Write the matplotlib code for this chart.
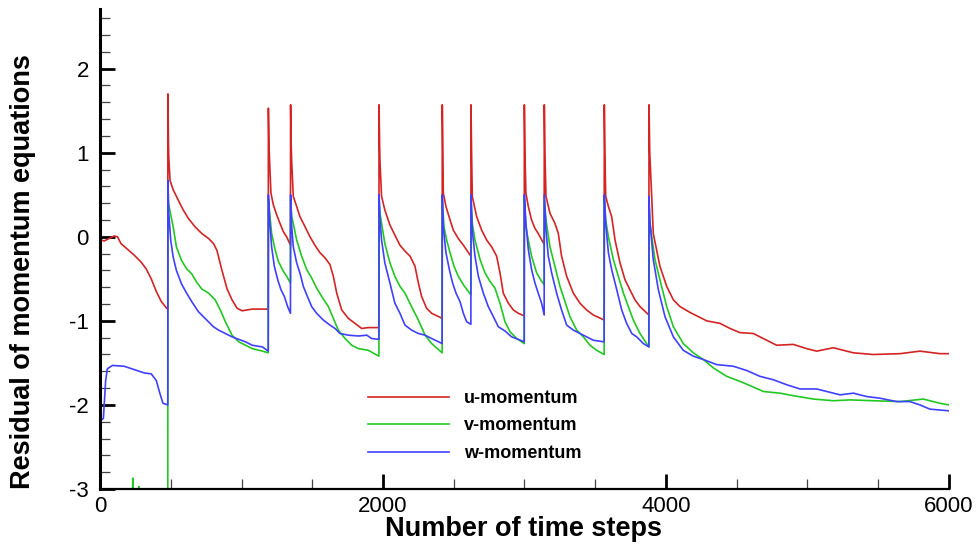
#!/usr/bin/env python3
"""Residual history of the three momentum equations (u, v, w)."""
import matplotlib
matplotlib.use("Agg")
import matplotlib.pyplot as plt
from matplotlib.ticker import MultipleLocator, FormatStrFormatter

plt.rcParams["font.family"] = ["Liberation Sans", "DejaVu Sans"]
plt.rcParams["axes.unicode_minus"] = False

# ---- data (one line per restart segment) ----
u_steps = [0, 29, 64, 100, 124, 148, 195, 243, 290, 326, 362, 398, 433, 471, 479,
           480, 484, 486, 495, 517, 552, 588, 624, 671, 719, 767, 802, 826, 862, 898, 933, 969, 1005, 1076, 1189,
           1190, 1194, 1199, 1208, 1225, 1249, 1272, 1296, 1319, 1340, 1346,
           1347, 1351, 1355, 1366, 1390, 1413, 1449, 1484, 1519, 1555, 1590, 1625, 1649, 1673, 1708, 1755, 1802, 1849, 1896, 1971,
           1972, 1976, 1979, 1990, 2013, 2049, 2084, 2120, 2155, 2191, 2226, 2250, 2273, 2308, 2344, 2418,
           2419, 2423, 2426, 2445, 2474, 2497, 2532, 2568, 2621,
           2622, 2626, 2631, 2662, 2697, 2733, 2768, 2803, 2827, 2850, 2886, 2921, 2956, 2998,
           2999, 3003, 3010, 3027, 3050, 3074, 3097, 3139,
           3140, 3144, 3152, 3180, 3215, 3239, 3262, 3298, 3345, 3392, 3439, 3486, 3563,
           3564, 3568, 3574, 3593, 3616, 3640, 3675, 3710, 3745, 3781, 3816, 3879,
           3880, 3885, 3899, 3910, 3957, 4005, 4052, 4099, 4170, 4288, 4382, 4452, 4523, 4617, 4688, 4782, 4900,
           4994, 5065, 5183, 5324, 5465, 5654, 5795, 5936, 6000]
u_resid = [-0.03, -0.05, -0.02, 0.01, 0.0, -0.08, -0.15, -0.22, -0.30, -0.38, -0.50, -0.65, -0.77, -0.85, -0.86,
           1.70, 1.10, 0.95, 0.67, 0.56, 0.44, 0.32, 0.22, 0.12, 0.04, -0.02, -0.08, -0.16, -0.40, -0.62, -0.75, -0.85, -0.88, -0.86, -0.86,
           1.53, 1.10, 0.88, 0.52, 0.38, 0.26, 0.16, 0.06, 0.0, -0.08, -0.10,
           1.57, 1.10, 0.88, 0.48, 0.36, 0.24, 0.12, 0.0, -0.10, -0.19, -0.25, -0.33, -0.47, -0.67, -0.87, -0.97, -1.03, -1.09, -1.08, -1.08,
           1.57, 1.10, 0.88, 0.48, 0.32, 0.14, 0.02, -0.10, -0.17, -0.23, -0.35, -0.55, -0.71, -0.85, -0.91, -0.97,
           1.57, 1.00, 0.52, 0.36, 0.20, 0.08, -0.02, -0.10, -0.23,
           1.57, 1.00, 0.48, 0.24, 0.08, -0.04, -0.12, -0.23, -0.43, -0.67, -0.79, -0.87, -0.91, -0.94,
           1.57, 1.00, 0.52, 0.36, 0.20, 0.10, 0.04, -0.09,
           1.57, 1.00, 0.48, 0.28, 0.16, 0.04, -0.23, -0.47, -0.67, -0.79, -0.87, -0.93, -0.99,
           1.57, 1.00, 0.48, 0.36, 0.24, -0.04, -0.31, -0.51, -0.63, -0.75, -0.83, -0.93,
           1.57, 1.00, 0.48, 0.04, -0.35, -0.59, -0.75, -0.83, -0.90, -1.00, -1.03, -1.09, -1.14, -1.15, -1.21, -1.29, -1.28,
           -1.33, -1.36, -1.32, -1.38, -1.40, -1.39, -1.36, -1.39, -1.39]

v_steps = [0, 225, 232, 236, 270, 274, 278, 479,
           480, 484, 493, 517, 540, 576, 612, 648, 683, 719, 767, 814, 850, 886, 933, 981, 1029, 1076, 1148, 1189,
           1190, 1199, 1213, 1237, 1260, 1296, 1319, 1346,
           1347, 1355, 1366, 1390, 1425, 1461, 1496, 1531, 1567, 1614, 1649, 1684, 1732, 1779, 1826, 1896, 1971,
           1972, 1979, 1990, 2013, 2049, 2084, 2120, 2155, 2202, 2250, 2297, 2344, 2418,
           2419, 2431, 2450, 2474, 2502, 2532, 2568, 2621,
           2622, 2631, 2650, 2686, 2721, 2756, 2791, 2827, 2862, 2898, 2945, 2998,
           2999, 3010, 3027, 3050, 3086, 3121, 3139,
           3140, 3152, 3180, 3215, 3251, 3286, 3321, 3369, 3416, 3463, 3510, 3563,
           3564, 3574, 3593, 3628, 3663, 3699, 3734, 3769, 3816, 3879,
           3880, 3886, 3922, 3957, 4005, 4052, 4122, 4193, 4264, 4335, 4429, 4523, 4594, 4688, 4806, 4900,
           5041, 5183, 5300, 5465, 5654, 5818, 5936, 6000]
v_resid = [-3.3, -3.3, -2.87, -3.3, -3.3, -2.97, -3.3, -3.3,
           0.50, 0.40, 0.32, 0.12, -0.12, -0.28, -0.38, -0.44, -0.54, -0.62, -0.67, -0.75, -0.87, -1.01, -1.17, -1.25, -1.29, -1.33, -1.36, -1.38,
           0.45, 0.28, 0.04, -0.15, -0.29, -0.41, -0.47, -0.55,
           0.45, 0.24, 0.16, -0.04, -0.23, -0.39, -0.49, -0.61, -0.71, -0.83, -0.97, -1.11, -1.21, -1.29, -1.33, -1.35, -1.42,
           0.45, 0.28, 0.16, -0.08, -0.31, -0.47, -0.59, -0.67, -0.83, -0.99, -1.17, -1.27, -1.38,
           0.45, 0.12, -0.04, -0.19, -0.35, -0.47, -0.57, -0.69,
           0.45, 0.16, -0.04, -0.27, -0.43, -0.53, -0.61, -0.79, -1.01, -1.13, -1.21, -1.27,
           0.45, 0.12, -0.04, -0.23, -0.43, -0.53, -0.57,
           0.45, 0.20, -0.12, -0.35, -0.59, -0.77, -0.95, -1.11, -1.19, -1.29, -1.35, -1.40,
           0.45, 0.20, 0.0, -0.27, -0.47, -0.67, -0.83, -0.99, -1.15, -1.31,
           0.40, 0.16, -0.27, -0.51, -0.83, -1.07, -1.27, -1.38, -1.46, -1.56, -1.66, -1.72, -1.77, -1.84, -1.86, -1.89,
           -1.93, -1.95, -1.94, -1.95, -1.96, -1.93, -1.98, -2.00]

w_steps = [0, 5, 10, 24, 40, 52, 88, 171, 243, 314, 362, 398, 421, 445, 479,
           480, 486, 500, 517, 540, 576, 612, 648, 695, 755, 802, 838, 886, 933, 981, 1029, 1076, 1148, 1189,
           1190, 1199, 1213, 1232, 1256, 1279, 1303, 1326, 1346,
           1347, 1355, 1366, 1390, 1413, 1437, 1461, 1496, 1531, 1578, 1625, 1661, 1696, 1755, 1826, 1885, 1920, 1971,
           1972, 1979, 1990, 2013, 2049, 2084, 2120, 2155, 2202, 2250, 2297, 2344, 2418,
           2419, 2426, 2445, 2469, 2492, 2516, 2544, 2568, 2591, 2621,
           2622, 2631, 2650, 2674, 2709, 2744, 2780, 2815, 2862, 2909, 2956, 2998,
           2999, 3010, 3027, 3050, 3074, 3097, 3121, 3139,
           3140, 3152, 3168, 3192, 3227, 3262, 3298, 3345, 3392, 3439, 3486, 3563,
           3564, 3574, 3593, 3616, 3652, 3687, 3722, 3758, 3793, 3840, 3879,
           3880, 3886, 3910, 3946, 3993, 4052, 4122, 4193, 4264, 4358, 4476, 4570, 4664, 4758, 4853, 4947,
           5065, 5136, 5230, 5324, 5418, 5512, 5630, 5724, 5795, 5865, 5936, 6000]
w_resid = [-2.35, -2.20, -2.18, -2.16, -1.71, -1.57, -1.53, -1.54, -1.58, -1.62, -1.63, -1.71, -1.85, -1.98, -2.00,
           0.67, 0.28, -0.04, -0.24, -0.40, -0.56, -0.67, -0.77, -0.89, -0.99, -1.07, -1.11, -1.15, -1.19, -1.22, -1.25, -1.29, -1.31, -1.36,
           0.50, 0.20, -0.12, -0.35, -0.51, -0.63, -0.71, -0.83, -0.91,
           0.50, 0.12, -0.12, -0.31, -0.43, -0.59, -0.69, -0.83, -0.91, -0.99, -1.05, -1.09, -1.15, -1.17, -1.18, -1.17, -1.21, -1.22,
           0.50, 0.20, -0.04, -0.31, -0.55, -0.79, -0.91, -1.05, -1.11, -1.15, -1.17, -1.21, -1.27,
           0.50, 0.12, -0.19, -0.39, -0.55, -0.67, -0.77, -0.91, -1.01, -1.04,
           0.50, 0.08, -0.23, -0.47, -0.67, -0.83, -0.95, -1.07, -1.12, -1.19, -1.22, -1.25,
           0.50, 0.16, -0.15, -0.39, -0.55, -0.67, -0.79, -0.93,
           0.50, 0.08, -0.23, -0.43, -0.67, -0.87, -1.05, -1.11, -1.15, -1.19, -1.23, -1.25,
           0.50, 0.16, -0.19, -0.39, -0.63, -0.87, -1.03, -1.15, -1.19, -1.27, -1.31,
           0.48, 0.20, -0.27, -0.63, -0.95, -1.19, -1.35, -1.42, -1.46, -1.52, -1.54, -1.59, -1.66, -1.70, -1.76, -1.81,
           -1.81, -1.84, -1.88, -1.86, -1.90, -1.92, -1.96, -1.96, -2.00, -2.05, -2.06, -2.07]

labels = ["u-momentum", "v-momentum", "w-momentum"]
colors = ["#d42424", "#22c822", "#4040ff"]


def main() -> None:
    fig = plt.figure(figsize=(9.78, 5.44), dpi=100)
    ax = fig.add_axes([100 / 978, 55 / 544, 849 / 978, 480 / 544])

    for xs, ys, lab, col in zip([u_steps, v_steps, w_steps], [u_resid, v_resid, w_resid], labels, colors):
        ax.plot(xs, ys, color=col, lw=1.2, label=lab)

    ax.set_xlim(0, 6000)
    ax.set_ylim(-3, 2.71)
    ax.spines["top"].set_visible(False)
    ax.spines["right"].set_visible(False)
    ax.spines["left"].set_linewidth(2.2)
    ax.spines["bottom"].set_linewidth(1.6)

    ax.xaxis.set_major_locator(MultipleLocator(2000))
    ax.xaxis.set_minor_locator(MultipleLocator(500))
    ax.yaxis.set_major_locator(MultipleLocator(1))
    ax.yaxis.set_minor_locator(MultipleLocator(0.2))
    ax.xaxis.set_major_formatter(FormatStrFormatter("%d"))
    ax.yaxis.set_major_formatter(FormatStrFormatter("%d"))
    ax.tick_params(which="major", direction="in", length=11, width=2, labelsize=16, color="black")
    ax.tick_params(which="minor", direction="in", length=7, width=0.9, color="#444444")
    ax.tick_params(axis="x", which="major", pad=5)
    ax.tick_params(axis="y", which="major", pad=8)

    fig.text(524 / 978, 8 / 544, "Number of time steps", ha="center", va="baseline",
             fontsize=19.5, fontweight="bold")
    fig.text(23 / 978, 1 - 272 / 544, "Residual of momentum equations", ha="center", va="center",
             rotation=90, fontsize=19.5, fontweight="bold")

    ax.legend(loc="upper left", bbox_to_anchor=(368 / 978, 1 - 390 / 544), bbox_transform=fig.transFigure,
              frameon=False, borderpad=0, borderaxespad=0, handlelength=4.5, handletextpad=0.8,
              labelspacing=0.58, prop={"weight": "bold", "size": 13})

    fig.savefig("out.png", dpi=100)
    plt.close(fig)


if __name__ == "__main__":
    main()
